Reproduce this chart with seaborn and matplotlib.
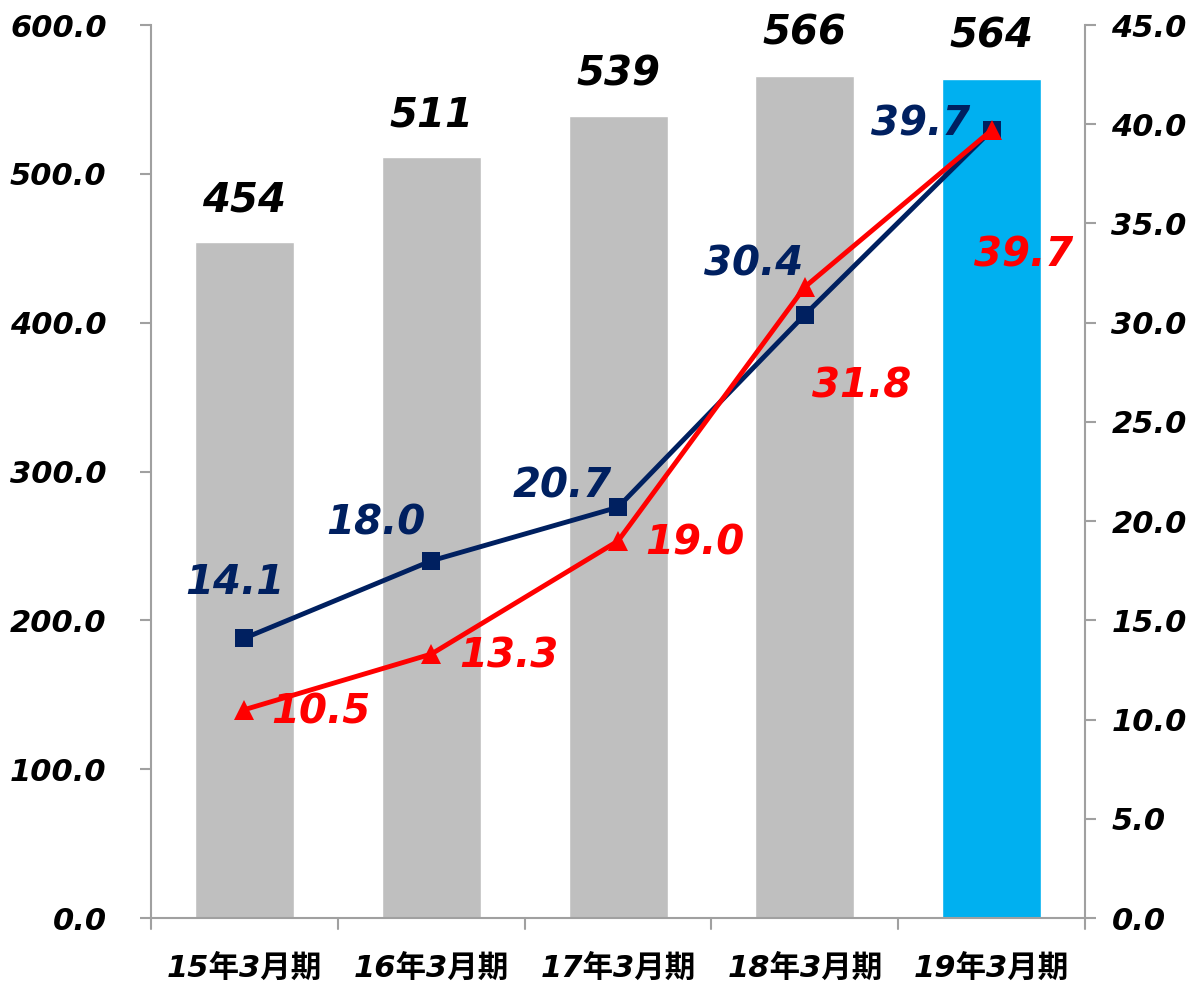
import numpy as np
import pandas as pd
import matplotlib
matplotlib.use("Agg")
import matplotlib.pyplot as plt
import seaborn as sns

# Data
periods = ["15年3月期", "16年3月期", "17年3月期", "18年3月期", "19年3月期"]
bar_values = [454, 511, 539, 566, 564]
navy_values = [14.1, 18.0, 20.7, 30.4, 39.7]
red_values = [10.5, 13.3, 19.0, 31.8, 39.7]
left_ticks = [0, 100, 200, 300, 400, 500, 600]
right_ticks = [0, 5, 10, 15, 20, 25, 30, 35, 40, 45]

sns.set_theme(style="white")
plt.rcParams["font.family"] = ["DejaVu Sans", "Noto Sans CJK JP"]
plt.rcParams["font.weight"] = "bold"
plt.rcParams["font.style"] = "italic"
plt.rcParams["text.color"] = "black"
plt.rcParams["xtick.color"] = "black"
plt.rcParams["ytick.color"] = "black"

GRAY = "#BFBFBF"
CYAN = "#00B0F0"
NAVY = "#002060"
RED = "#FF0000"
AXC = "#A0A0A0"
LABEL_FS = 29

fig = plt.figure(figsize=(11.96, 9.85), dpi=100)
ax = fig.add_axes([0.1263, 0.068, 0.9072 - 0.1263, 0.9746 - 0.068])

df = pd.DataFrame({"period": periods, "value": bar_values})
bar_colors = [GRAY] * (len(periods) - 1) + [CYAN]
sns.barplot(data=df, x="period", y="value", hue="period", palette=bar_colors,
            width=0.53, legend=False, ax=ax, saturation=1)
ax.set_ylim(0, 600)
ax.set_xlim(-0.5, len(periods) - 0.5)
ax.set_yticks(left_ticks)
ax.set_yticklabels([f"{v:.1f}" for v in left_ticks])
ax.set_xlabel("")
ax.set_ylabel("")

for i, v in enumerate(bar_values):
    ax.annotate(f"{v}", (i, v), xytext=(0, 30), textcoords="offset points",
                ha="center", va="center", fontsize=LABEL_FS, fontweight="bold",
                fontstyle="italic", color="black")

# Category boundary ticks on the x axis
ax.set_xticks(np.arange(len(periods)))
ax.set_xticklabels(periods, fontsize=22, fontweight="bold", fontstyle="italic")
ax.tick_params(axis="x", length=0, pad=26, labelcolor="black")
for b in np.arange(-0.5, len(periods), 1.0):
    ax.plot([b, b], [0, -0.012], transform=ax.get_xaxis_transform(),
            color=AXC, lw=1.5, clip_on=False)

ax.tick_params(axis="y", direction="out", length=8, width=1.5, color=AXC,
               labelsize=22, pad=24, left=True, labelcolor="black")

ax2 = ax.twinx()
x_pos = np.arange(len(periods))
sns.lineplot(x=x_pos, y=navy_values, color=NAVY, lw=3.5, marker="s",
             markersize=13, markeredgewidth=0, ax=ax2)
sns.lineplot(x=x_pos, y=red_values, color=RED, lw=3.5, marker="^",
             markersize=14, markeredgewidth=0, ax=ax2)
ax2.set_ylim(0, 45)
ax2.set_yticks(right_ticks)
ax2.set_yticklabels([f"{v:.1f}" for v in right_ticks])
ax2.tick_params(axis="y", direction="out", length=8, width=1.5, color=AXC,
                labelsize=22, pad=11, right=True, labelcolor="black")
ax2.grid(False)

navy_off = [(-7, 40), (-40, 27), (-40, 15), (-37, 36), (-51, 4)]
red_off = [(55, -2), (56, -2), (55, -2), (41, -72), (23, -90)]
for i, (v, off) in enumerate(zip(navy_values, navy_off)):
    ax2.annotate(f"{v:.1f}", (i, v), xytext=off, textcoords="offset points",
                 ha="center", va="center", fontsize=LABEL_FS, fontweight="bold",
                 fontstyle="italic", color=NAVY)
for i, (v, off) in enumerate(zip(red_values, red_off)):
    ax2.annotate(f"{v:.1f}", (i, v), xytext=off, textcoords="offset points",
                 ha="center", va="center", fontsize=LABEL_FS, fontweight="bold",
                 fontstyle="italic", color=RED)

for a in (ax, ax2):
    a.spines["top"].set_visible(False)
    for s in ("left", "right", "bottom"):
        a.spines[s].set_color(AXC)
        a.spines[s].set_linewidth(1.5)
ax.spines["right"].set_visible(False)
ax2.spines["left"].set_visible(False)
ax2.spines["bottom"].set_visible(False)

fig.savefig("out.png", dpi=100)
